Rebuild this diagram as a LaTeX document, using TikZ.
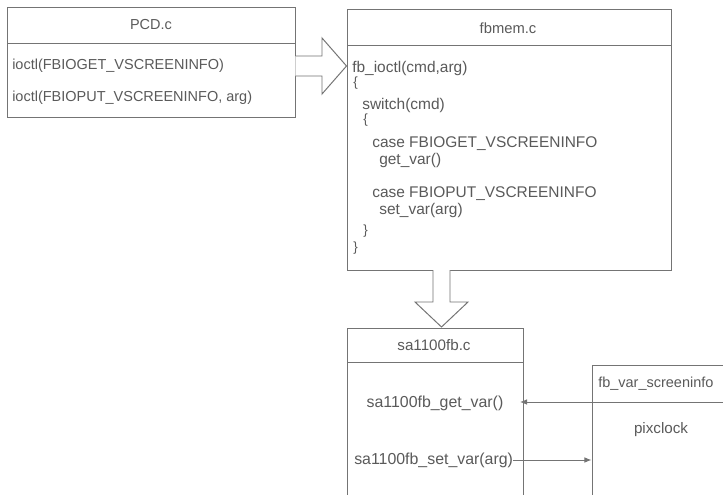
\documentclass[tikz,border=0pt]{standalone}
\usepackage{fontspec}
\setmainfont{Liberation Sans}
\usepackage{tikz}
\usetikzlibrary{fit,arrows.meta}
\definecolor{boxline}{HTML}{747474}
\definecolor{boxtext}{HTML}{5A5A5A}

\begin{document}
\begin{tikzpicture}[x=0.025cm, y=-0.025cm,
    box/.style={draw=boxline, line width=0.7pt, inner sep=0pt},
    code/.style={anchor=west, inner sep=0pt, text=boxtext, text height=7pt, text depth=1pt},
    conn/.style={draw=boxline, line width=0.7pt, -{Latex[length=5pt,width=4pt]}},
    bigarrow/.style={draw=boxline, fill=white, line width=0.7pt, line join=miter}]
    \clip (0,0) rectangle (723,494);
    \fill[white] (0,0) rectangle (723,494);

    \node[box, fit={(7,7) (295,117)}] (pcd) {};
    \draw[boxline, line width=0.7pt] (7,43) -- (295,43);
    \node[text=boxtext, font=\fontsize{10.3}{12}\selectfont] (pcdtitle) at (151,25) {PCD.c};
    \node[code, font=\fontsize{10.3}{12}\selectfont] (pcdget) at (12,65)
      {ioctl(FBIOGET\_VSCREENINFO)};
    \node[code, font=\fontsize{10.3}{12}\selectfont] (pcdput) at (12,97)
      {ioctl(FBIOPUT\_VSCREENINFO, arg)};

    \node[box, fit={(347,9) (671,270)}] (fbmem) {};
    \draw[boxline, line width=0.7pt] (347,45) -- (671,45);
    \node[text=boxtext, font=\fontsize{10.5}{12}\selectfont] (fbmemtitle) at (508,28) {fbmem.c};
    \node[code, font=\fontsize{11}{12}\selectfont] (ioctl) at (352,68) {fb\_ioctl(cmd,arg)};
    \node[code, font=\fontsize{9.5}{12}\selectfont] (brace1) at (353,82) {\{};
    \node[code, font=\fontsize{11}{12}\selectfont] (switch) at (362,105) {switch(cmd)};
    \node[code, font=\fontsize{9.5}{12}\selectfont] (brace2) at (363,119) {\{};
    \node[code, font=\fontsize{11}{12}\selectfont] (caseget) at (372,143)
      {case FBIOGET\_VSCREENINFO};
    \node[code, font=\fontsize{11}{12}\selectfont] (getvarcall) at (379,160) {get\_var()};
    \node[code, font=\fontsize{11}{12}\selectfont] (caseput) at (372,193)
      {case FBIOPUT\_VSCREENINFO};
    \node[code, font=\fontsize{11}{12}\selectfont] (setvarcall) at (379,210) {set\_var(arg)};
    \node[code, font=\fontsize{9.5}{12}\selectfont] (brace3) at (363,230) {\}};
    \node[code, font=\fontsize{9.5}{12}\selectfont] (brace4) at (353,247) {\}};

    \node[box, fit={(347,328) (523,500)}] (safb) {};
    \draw[boxline, line width=0.7pt] (347,362) -- (523,362);
    \node[text=boxtext, font=\fontsize{10.8}{12}\selectfont] (safbtitle) at (434,345) {sa1100fb.c};
    \node[text=boxtext, inner sep=0pt, font=\fontsize{11.3}{12}\selectfont] (getvar) at (435,403)
      {sa1100fb\_get\_var()};
    \node[code, font=\fontsize{11.3}{12}\selectfont] (setvar) at (354,460)
      {sa1100fb\_set\_var(arg)};

    \node[box, fit={(592,365) (740,500)}] (fbvar) {};
    \node[code, font=\fontsize{10.3}{12}\selectfont] (fbvartitle) at (598,383) {fb\_var\_screeninfo};
    \node[text=boxtext, font=\fontsize{10.8}{12}\selectfont] (pixclock) at (661,430) {pixclock};
    \coordinate (gettip) at (520,402);
    \draw[boxline, line width=0.7pt] (592,402) -- (740,402);

    \draw[conn] (fbvar.west |- gettip) -- (gettip);
    \draw[conn] (setvar.east) -- (fbvar.west |- setvar.east);

    \draw[bigarrow] (pcd.east |- 0,56) -- (322,56) -- (322,38) -- (fbmem.west |- 0,66)
      -- (322,94) -- (322,76) -- (pcd.east |- 0,76);
    \draw[bigarrow] (433,270) -- (433,302) -- (415,302) -- (441.5,327)
      -- (468,302) -- (450,302) -- (450,270);
  \end{tikzpicture}
\end{document}
